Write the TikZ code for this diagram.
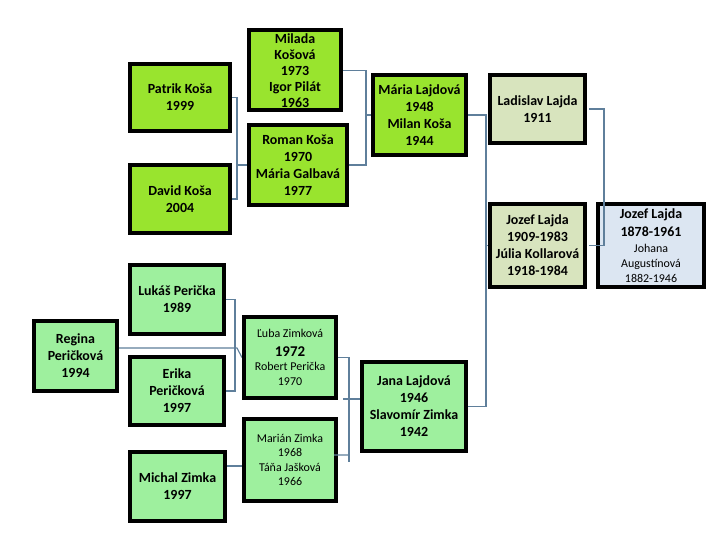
\documentclass[tikz,border=0pt]{standalone}
\usepackage{fontspec}
\setmainfont{Carlito}
\usetikzlibrary{backgrounds}
\definecolor{famLime}{HTML}{99E42E}
\definecolor{famMint}{HTML}{9EF09E}
\definecolor{famBeige}{HTML}{D8E4BE}
\definecolor{famBlue}{HTML}{DCE6F2}
\definecolor{linkCol}{HTML}{5F7F9B}
\tikzset{
  person/.style={draw=black, line width=4bp, align=center, inner sep=0pt,
    text=black, font=\fontsize{14}{17}\selectfont\bfseries},
  lightperson/.style={person, font=\fontsize{12}{14.5}\selectfont},
  link/.style={draw=linkCol, line width=1.1bp}
}
\begin{document}
\begin{tikzpicture}[x=1bp,y=-1bp]
\useasboundingbox (0,0) rectangle (720,540);
% top family
\node[person, fill=famLime, minimum width=100bp, minimum height=67bp] (patrik) at (180,97.5) {Patrik Koša\\1999};
\node[person, fill=famLime, minimum width=100bp, minimum height=68bp] (david) at (180,199) {David Koša\\2004};
\node[person, fill=famLime, minimum width=92bp, minimum height=80bp] (milada) at (295,70.5) {Milada\\[-0.8bp]Košová\\[-0.8bp]1973\\[-0.8bp]Igor Pilát\\[-0.8bp]1963};
\node[person, fill=famLime, minimum width=98bp, minimum height=80bp] (roman) at (298,165) {Roman Koša\\1970\\Mária Galbavá\\1977};
\node[person, fill=famLime, minimum width=93bp, minimum height=80bp] (maria) at (419.5,115) {Mária Lajdová\\1948\\Milan Koša\\1944};
\node[person, fill=famBeige, minimum width=95bp, minimum height=68bp] (ladislav) at (537.5,109) {Ladislav Lajda\\1911};
\node[person, fill=famBeige, minimum width=95bp, minimum height=83bp] (jozefA) at (537.5,245.5) {Jozef Lajda\\1909-1983\\Júlia Kollarová\\1918-1984};
\node[person, fill=famBlue, minimum width=106bp, minimum height=83bp] (jozefB) at (651,245.5) {Jozef Lajda\\[1bp]1878-1961\\[-1bp]{\fontsize{12}{14.5}\selectfont\mdseries Johana}\\[-2bp]{\fontsize{12}{14.5}\selectfont\mdseries Augustínová}\\[-2bp]{\fontsize{12}{14.5}\selectfont\mdseries 1882-1946}};
% bottom family
\node[person, fill=famMint, minimum width=94bp, minimum height=69bp] (lukas) at (177,299.5) {Lukáš Perička\\1989};
\node[person, fill=famMint, minimum width=83bp, minimum height=70bp] (regina) at (75.5,356) {Regina\\Peričková\\1994};
\node[person, fill=famMint, minimum width=94bp, minimum height=68bp] (erika) at (177,391) {Erika\\Peričková\\1997};
\node[person, fill=famMint, minimum width=95bp, minimum height=69bp] (michal) at (177.5,486.5) {Michal Zimka\\1997};
\node[lightperson, fill=famMint, minimum width=92bp, minimum height=81bp] (luba) at (290,357.5) {Ľuba Zimková\\[4bp]{\fontsize{15}{18}\selectfont\bfseries 1972}\\Robert Perička\\1970};
\node[lightperson, fill=famMint, minimum width=92bp, minimum height=82bp] (marian) at (290,460) {Marián Zimka\\1968\\Táňa Jašková\\1966};
\node[person, fill=famMint, minimum width=104bp, minimum height=89bp] (jana) at (414,406.5) {Jana Lajdová\\1946\\Slavomír Zimka\\1942};
% bus coordinates
\coordinate (busA) at (237,0);
\coordinate (busB) at (366,0);
\coordinate (busC) at (486,0);
\coordinate (busD) at (604,0);
\coordinate (busE) at (235,0);
\coordinate (regj) at (237,348);
\coordinate (busF) at (349,0);
\coordinate (fEnd) at (349,462);
\coordinate (mj) at (349,455);
\coordinate (janaj) at (343,399);
\coordinate (mich) at (0,466);
% connectors over boxes
\draw[link] ([xshift=2bp]ladislav.east) -- (ladislav.east -| busD) -- (jozefA.east -| busD) -- ([xshift=2bp]jozefA.east);
\draw[link] ([xshift=-4bp,yshift=5bp]marian.east) -- (mj);
\begin{pgfonlayer}{background}
\fill[white] (0,0) rectangle (720,540);
\draw[link] (patrik.east) -- (patrik.east -| busA) -- (david.east -| busA) -- (david.east);
\draw[link] (roman.west -| busA) -- (roman.west);
\draw[link] (milada.east) -- (milada.east -| busB) -- (roman.east -| busB) -- (roman.east);
\draw[link] (maria.west -| busB) -- (maria.west);
\draw[link] (maria.east) -- (maria.east -| busC) -- (jana.east -| busC) -- (jana.east);
\draw[link] (jozefA.west -| busC) -- (jozefA.west);
\draw[link] (lukas.east) -- (lukas.east -| busE) -- (erika.east -| busE) -- (erika.east);
\draw[link] ([yshift=8bp]regina.east) -- (regj) -- (luba.west);
\draw[link] (luba.east) -- (luba.east -| busF) -- (fEnd);
\draw[link] (janaj) -- (janaj -| jana.west);
\draw[link] (michal.east |- mich) -- (marian.west |- mich);
\end{pgfonlayer}
\end{tikzpicture}
\end{document}
